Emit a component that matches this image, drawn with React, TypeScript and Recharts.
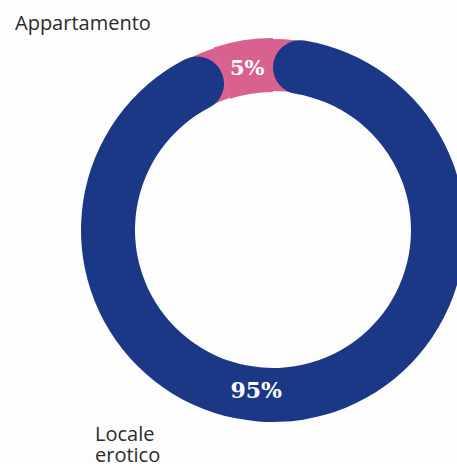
import { PieChart, Pie, Cell } from "recharts";

const categories = ["Appartamento", "Locale erotico"];
const shares = [5, 95];
const colors = ["#d8618f", "#1b3886"];

const rows = categories.map((name, i) => ({ name, value: shares[i] }));

const CX = 268;
const CY = 225;
const INNER = 138;
const OUTER = 192;
const RAD = Math.PI / 180;

function renderLabel(props: any) {
  const { cx, cy, midAngle, innerRadius, outerRadius, value, index } = props;
  // big slice label sits near the bottom, slightly left of centre
  const angle = index === 0 ? midAngle : 264;
  const r = (innerRadius + outerRadius) / 2 + (index === 0 ? 0 : -4);
  const x = cx + r * Math.cos(-angle * RAD);
  const y = cy + r * Math.sin(-angle * RAD);
  return (
    <text
      x={x}
      y={y}
      fill="#ffffff"
      textAnchor="middle"
      dominantBaseline="central"
      fontFamily="'DejaVu Serif', serif"
      fontWeight={700}
      fontSize={index === 0 ? 21 : 22}
    >
      {`${value}%`}
    </text>
  );
}

const nameStyle = {
  position: "absolute" as const,
  fontFamily: "'Open Sans', sans-serif",
  fontSize: 20,
  lineHeight: "20px",
  color: "#2b2b2b",
  whiteSpace: "nowrap" as const,
};

export default function App() {
  return (
    <div
      style={{
        position: "absolute",
        left: 0,
        top: 0,
        width: 457,
        height: 464,
        overflow: "hidden",
        background: "#fdfdfd",
      }}
    >
      <PieChart width={457} height={464}>
        {/* pink under-layer, shows through where the blue ends are rounded */}
        <Pie
          data={rows}
          dataKey="value"
          cx={CX}
          cy={CY}
          innerRadius={INNER + 1}
          outerRadius={OUTER - 1}
          startAngle={90}
          endAngle={450}
          stroke="none"
          isAnimationActive={false}
        >
          {rows.map((r) => (
            <Cell key={r.name} fill={colors[0]} />
          ))}
        </Pie>
        <Pie
          data={rows}
          dataKey="value"
          nameKey="name"
          cx={CX}
          cy={CY}
          innerRadius={INNER}
          outerRadius={OUTER}
          startAngle={90}
          endAngle={450}
          cornerRadius={27}
          stroke="none"
          label={renderLabel}
          labelLine={false}
          isAnimationActive={false}
        >
          {rows.map((r, i) => (
            <Cell key={r.name} fill={colors[i]} />
          ))}
        </Pie>
      </PieChart>
      <div style={{ ...nameStyle, left: 15, top: 13 }}>{categories[0]}</div>
      <div style={{ ...nameStyle, left: 95, top: 424 }}>Locale</div>
      <div style={{ ...nameStyle, left: 95, top: 445 }}>erotico</div>
    </div>
  );
}
